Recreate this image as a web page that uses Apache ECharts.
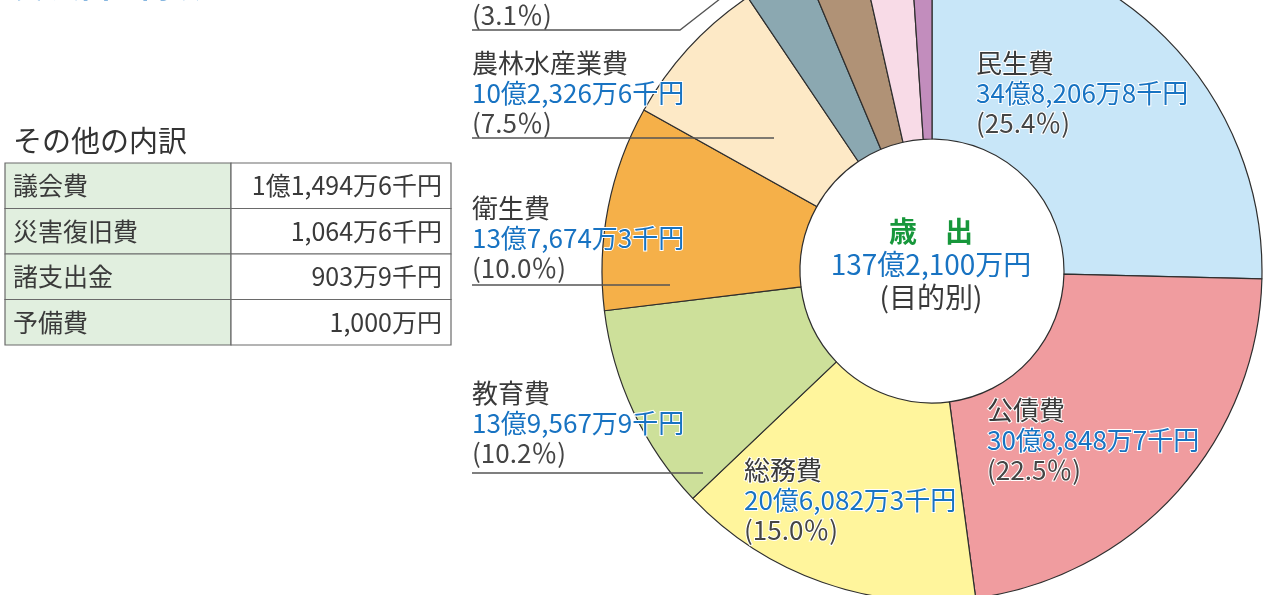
<!DOCTYPE html>
<html>
<head>
<meta charset="utf-8">
<script src="https://cdn.jsdelivr.net/npm/echarts@6/dist/echarts.min.js"></script>
<style>
  html, body { margin: 0; padding: 0; background: #fff; }
  #main { width: 1276px; height: 595px; }
</style>
</head>
<body>
<div id="main"></div>
<script>
// 単位：千円
var otherNames = ['議会費', '災害復旧費', '諸支出金', '予備費'];
var otherValues = [114946, 10646, 9039, 10000];

var names = ['民生費', '公債費', '総務費', '教育費', '衛生費', '農林水産業費', '土木費', '消防費', '商工費', 'その他'];
var values = [3482068, 3088487, 2060823, 1395679, 1376743, 1023266, 425400, 384200, 339703];
values.push(otherValues.reduce(function (a, b) { return a + b; }, 0));

var colors = ['#c8e6f8', '#f09c9f', '#fff59c', '#cde09a', '#f5b049', '#fde9c6', '#8ba8b1', '#b09276', '#f8dbe7', '#c28dbd'];

// ラベル位置（左上）と下線
var labelPos = [
  [976, 48], [987, 395], [744, 455], [472, 378], [472, 193], [472, 48], [472, -60]
];
var underline = [
  [[472, 473], [703, 473]],
  [[472, 285], [670, 285]],
  [[472, 138], [774, 138]],
  [[472, 30], [680, 30], [770, -40]]
];

var total = values.reduce(function (a, b) { return a + b; }, 0);

function fmt(v) {
  var oku = Math.floor(v / 100000), man = Math.floor(v % 100000 / 10), sen = v % 10;
  var s = '';
  if (oku) s += oku + '億';
  if (man) s += man.toLocaleString('en-US') + '万';
  if (sen) s += sen + '千';
  return s + '円';
}

var FONT = '"Noto Sans CJK JP", sans-serif';
var BLUE = '#1873c2';
var DARK = '#3a3a3a';

var pieData = [];
for (var i = 0; i < names.length; i++) {
  pieData.push({
    name: names[i],
    value: values[i],
    itemStyle: { color: colors[i] },
    label: { show: i < labelPos.length }
  });
}

// その他の内訳 表
var tableEls = [];
var tx = 5, tMid = 231, tRight = 451, tTop = 163, rowH = 45.5;
tableEls.push({
  type: 'text', left: 13, top: 126,
  style: { text: 'その他の内訳', font: '29px ' + FONT, fill: '#333' }
});
for (var r = 0; r < otherNames.length; r++) {
  var y = tTop + r * rowH;
  tableEls.push({
    type: 'rect', shape: { x: tx, y: y, width: tMid - tx, height: rowH },
    style: { fill: '#e1efdf', stroke: '#6a6a6a', lineWidth: 1.2 }
  });
  tableEls.push({
    type: 'rect', shape: { x: tMid, y: y, width: tRight - tMid, height: rowH },
    style: { fill: '#fff', stroke: '#6a6a6a', lineWidth: 1.2 }
  });
  tableEls.push({
    type: 'text', x: 13, y: y + rowH / 2,
    style: { text: otherNames[r], font: '25px ' + FONT, fill: DARK, verticalAlign: 'middle' }
  });
  tableEls.push({
    type: 'text', x: 442, y: y + rowH / 2,
    style: { text: fmt(otherValues[r]), font: '25px ' + FONT, fill: DARK, align: 'right', verticalAlign: 'middle' }
  });
}

// 引出線（下線）
var lineEls = underline.map(function (pts) {
  return {
    type: 'polyline', z: 100,
    shape: { points: pts },
    style: { stroke: '#555', lineWidth: 1.3, fill: null }
  };
});

var myChart = echarts.init(document.getElementById('main'));
var option = {
  backgroundColor: '#fff',
  animation: false,
  graphic: tableEls.concat(lineEls).concat([
    {
      type: 'text', x: 14, y: 1,
      style: { text: '⑵ 歳出の内訳', font: 'bold 30px ' + FONT, fill: BLUE, verticalAlign: 'bottom' }
    },
    {
      type: 'text', x: 931, y: 231,
      style: { text: '歳　出', font: 'bold 28px ' + FONT, fill: '#17973b', align: 'center', verticalAlign: 'middle' }
    },
    {
      type: 'text', x: 931, y: 264,
      style: { text: fmt(total), font: '28px ' + FONT, fill: BLUE, align: 'center', verticalAlign: 'middle' }
    },
    {
      type: 'text', x: 931, y: 297,
      style: { text: '(目的別)', font: '28px ' + FONT, fill: DARK, align: 'center', verticalAlign: 'middle' }
    }
  ]),
  series: [{
    type: 'pie',
    center: [932, 271],
    radius: [132, 330],
    startAngle: 90,
    clockwise: true,
    avoidLabelOverlap: false,
    silent: true,
    itemStyle: { borderColor: '#2e2e2e', borderWidth: 1.2 },
    label: {
      position: 'outside',
      fontFamily: FONT,
      formatter: function (p) {
        return '{n|' + p.name + '}\n{v|' + fmt(p.value) + '}\n{p|(' + (p.value / total * 100).toFixed(1) + '％)}';
      },
      rich: {
        n: { fontSize: 26, lineHeight: 30, color: DARK, fontFamily: FONT, textBorderColor: '#fff', textBorderWidth: 2 },
        v: { fontSize: 26, lineHeight: 30, color: BLUE, fontFamily: FONT, textBorderColor: '#fff', textBorderWidth: 2 },
        p: { fontSize: 26, lineHeight: 30, color: '#454545', fontFamily: FONT, textBorderColor: '#fff', textBorderWidth: 2 }
      }
    },
    labelLine: { show: false },
    labelLayout: function (params) {
      var pos = labelPos[params.dataIndex];
      if (!pos) return {};
      return { x: pos[0], y: pos[1], align: 'left', verticalAlign: 'top', hideOverlap: false };
    },
    data: pieData
  }]
};
myChart.setOption(option);
</script>
</body>
</html>
